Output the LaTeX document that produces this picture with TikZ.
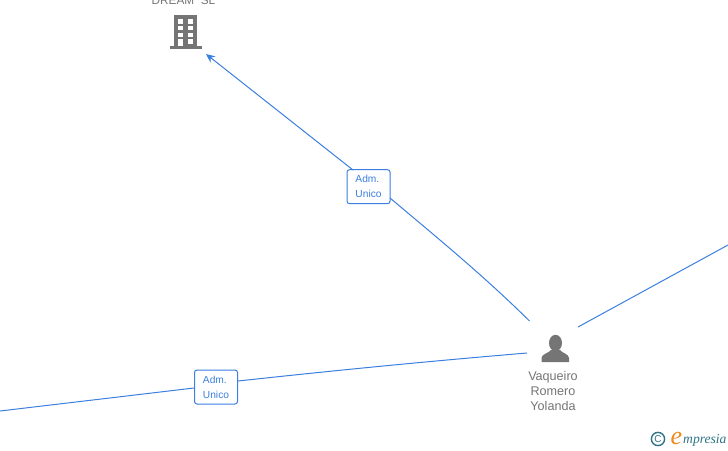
\documentclass[tikz,border=0pt]{standalone}
\usepackage{fontspec}
\setmainfont{Liberation Sans}
\newfontfamily\logofont{Liberation Serif}
\usetikzlibrary{arrows.meta}
\definecolor{linkblue}{HTML}{3B7FE0}
\definecolor{icongrey}{HTML}{757575}
\definecolor{logoteal}{HTML}{2F7385}
\definecolor{logoorange}{HTML}{F08A1D}
\tikzset{
  link/.style={draw=linkblue,line width=1pt},
  tagbox/.style={draw=linkblue,line width=1pt,rounded corners=2.5pt,fill=white,minimum width=43pt,minimum height=34pt,inner sep=0pt,align=left,text=linkblue,font=\fontsize{10.2}{15}\selectfont},
  caption/.style={text=icongrey,align=center,inner sep=0pt,font=\fontsize{12.6}{15}\selectfont},
  iconhold/.style={minimum width=30pt,minimum height=30pt,inner sep=0pt}
}
\begin{document}
\begin{tikzpicture}[x=1pt,y=-1pt]
\useasboundingbox (0,0) rectangle (728,450);
\clip (0,0) rectangle (728,450);
% nodes
\node[iconhold] (dream) at (185.5,32) {};
\node[iconhold] (person) at (555,349) {};
\node[tagbox] (admtop) at (368.5,186.7) {Adm.\\Unico};
\node[tagbox] (admleft) at (216,387) {Adm.\\Unico};
\node[caption,font=\fontsize{11.8}{15}\selectfont] (dreamtext) at (183.5,0) {DREAM\ \ SL};
\node[caption,anchor=north] (persontext) at (553,371.5) {Vaqueiro\\Romero\\Yolanda};
% connector ends
\coordinate (dreamend) at (206,54);
\coordinate (topin) at (353,170);
\coordinate (topout) at (390,198);
\coordinate (leftin) at (238,381);
\coordinate (leftout) at (194,388);
\coordinate (ptop) at (529.5,321);
\coordinate (pleft) at (527,353);
\coordinate (pright) at (578,327);
\coordinate (edgeright) at (728,245);
\coordinate (edgeleft) at (0,411);
% connectors
\draw[link,-{Stealth[length=9pt,width=8pt]}] (topin) -- (dreamend);
\draw[link] (ptop) .. controls (485,277) and (440,240) .. (topout);
\draw[link] (pleft) .. controls (420,362) and (330,371) .. (leftin);
\draw[link] (leftout) -- (edgeleft);
\draw[link] (pright) -- (edgeright);
% building icon
\fill[icongrey] (174,15) rectangle (197,46.5);
\fill[icongrey] (169.5,46) rectangle (202,48.5);
\fill[white] (178,19) rectangle (183,23.5);
\fill[white] (187.5,19) rectangle (192.5,23.5);
\fill[white] (178,25.5) rectangle (183,30);
\fill[white] (187.5,25.5) rectangle (192.5,30);
\fill[white] (178,32.5) rectangle (183,37);
\fill[white] (187.5,32.5) rectangle (192.5,37);
\fill[white] (178,39) rectangle (183,46);
\fill[white] (187.5,39) rectangle (192.5,43.5);
% person icon
\fill[icongrey] (555.5,343) ellipse (6.5 and 8.2);
\fill[icongrey] (541.5,362) -- (541.5,358) .. controls (541.5,354) and (549,353) .. (551,350) -- (560,350) .. controls (562,353) and (569,354) .. (569,358) -- (569,362) -- cycle;
% logo
\draw[logoteal,line width=1.4pt] (658,439) circle (6.6);
\node[text=logoteal,inner sep=0pt,font=\fontsize{10}{10}\selectfont] (copyc) at (658,439) {C};
\node[anchor=base west,text=logoorange,inner sep=0pt,font=\logofont\itshape\fontsize{26}{26}\selectfont] (logoe) at (670.5,444.5) {e};
\node[anchor=base west,text=logoteal,inner sep=0pt,font=\logofont\itshape\fontsize{13.6}{14}\selectfont] (logotext) at (683,443) {mpresia};
\end{tikzpicture}
\end{document}
